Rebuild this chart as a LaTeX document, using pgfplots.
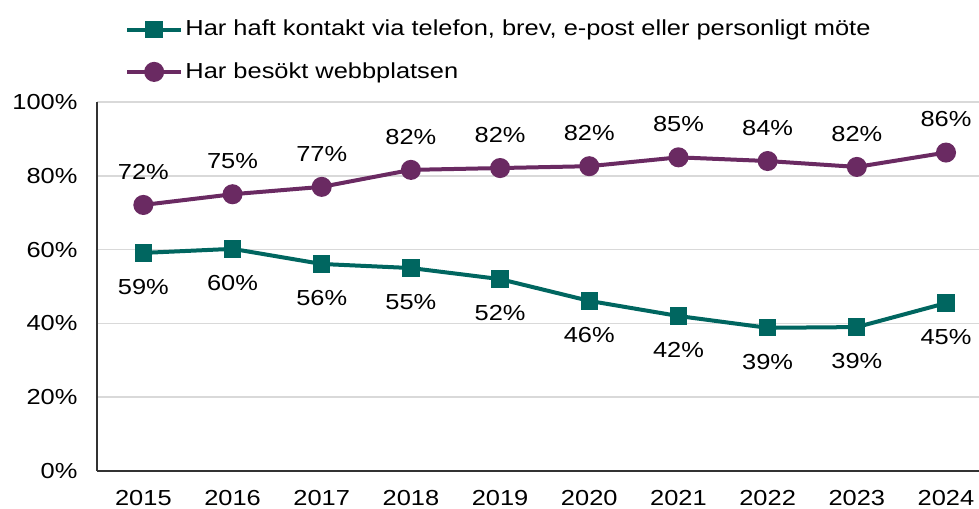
\documentclass[border=0pt]{standalone}
\usepackage{pgfplots}
\pgfplotsset{compat=1.18}
\usepackage{fontspec}
\setmainfont{Liberation Sans}[FakeStretch=1.17]
\definecolor{teal1}{HTML}{006660}
\definecolor{purp1}{HTML}{6A2A62}
\definecolor{gridc}{HTML}{D9D9D9}
\begin{document}
\fontsize{16.3pt}{19pt}\selectfont
\begin{tikzpicture}
\useasboundingbox (0,0) rectangle (734.25pt,381.75pt);
\begin{axis}[
  at={(72.75pt,28.5pt)}, anchor=south west,
  scale only axis, width=661.5pt, height=276.75pt,
  xmin=-0.52, xmax=9.37, ymin=0, ymax=100,
  xtick={0,...,9},
  xticklabels={2015,2016,2017,2018,2019,2020,2021,2022,2023,2024},
  ytick={0,20,...,100},
  yticklabel={\pgfmathprintnumber{\tick}\%},
  /pgf/number format/assume math mode=true,
  ticklabel style={font=\fontsize{16.3pt}{19pt}\selectfont},
  yticklabel style={xshift=-9pt},
  xticklabel style={yshift=-9pt},
  major tick length=0pt,
  axis x line*=bottom, axis y line*=left,
  axis line style={black!80, line width=1.1pt, -},
  ymajorgrids, grid style={gridc, line width=1.1pt},
  clip=false,
  point meta=explicit symbolic,
  nodes near coords={\pgfplotspointmeta\%},
  every node near coord/.append style={font=\fontsize{16.3pt}{19pt}\selectfont, black},
  legend style={draw=none, fill=none, at={(0.032,1.23)}, anchor=north west,
    font=\fontsize{16.3pt}{19pt}\selectfont, row sep=13.5pt,
    inner sep=0pt},
  legend cell align=left,
  legend image code/.code={
    \draw[#1, line width=3pt] (0pt,0pt) -- (40pt,0pt);
    \draw[#1, mark repeat=2, mark phase=2] plot coordinates {(0pt,0pt) (20pt,0pt) (40pt,0pt)};
  },
]
\addplot[color=teal1, line width=3pt, mark=square*, mark size=5pt,
  mark options={solid},
  every node near coord/.append style={anchor=center, yshift=-25.5pt}]
  coordinates {
  (0,59.1) [59] (1,60.2) [60] (2,56.1) [56] (3,55.0) [55] (4,52.0) [52]
  (5,46.1) [46] (6,42.0) [42] (7,38.8) [39] (8,39.0) [39] (9,45.5) [45]
  };
\addlegendentry{Har haft kontakt via telefon, brev, e-post eller personligt möte}
\addplot[color=purp1, line width=3pt, mark=*, mark size=6pt,
  mark options={solid},
  every node near coord/.append style={anchor=center, yshift=25pt}]
  coordinates {
  (0,72.1) [72] (1,75.0) [75] (2,77.0) [77] (3,81.6) [82] (4,82.1) [82]
  (5,82.6) [82] (6,85.0) [85] (7,84.0) [84] (8,82.4) [82] (9,86.3) [86]
  };
\addlegendentry{Har besökt webbplatsen}
\end{axis}
\end{tikzpicture}
\end{document}
